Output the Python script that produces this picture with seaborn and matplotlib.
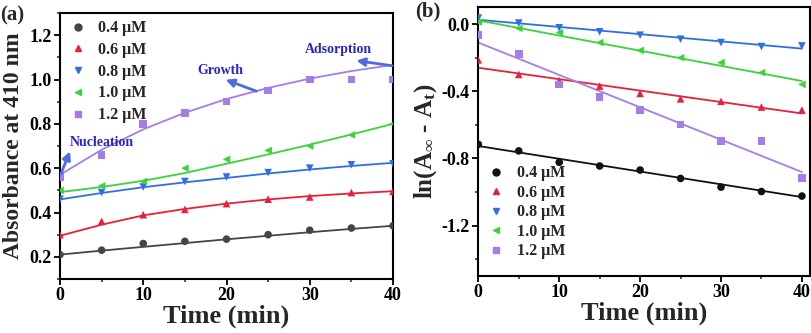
import numpy as np
import pandas as pd
import matplotlib
matplotlib.use("Agg")
import matplotlib.pyplot as plt
import seaborn as sns
from matplotlib.ticker import MultipleLocator

sns.set_theme(style="ticks")
plt.rcParams['font.family'] = ['Liberation Serif', 'DejaVu Serif']
plt.rcParams['font.weight'] = 'bold'
plt.rcParams['mathtext.fontset'] = 'custom'
plt.rcParams['mathtext.rm'] = 'Liberation Serif:bold'
plt.rcParams['mathtext.it'] = 'Liberation Serif:bold'
plt.rcParams['mathtext.bf'] = 'Liberation Serif:bold'

# ---------------- data ----------------
time = [0, 5, 10, 15, 20, 25, 30, 35, 40]
labels = ["0.4 μM", "0.6 μM", "0.8 μM", "1.0 μM", "1.2 μM"]

# panel (a): absorbance at 410 nm
abs_04 = [0.21, 0.23, 0.26, 0.27, 0.28, 0.30, 0.32, 0.33, 0.34]
abs_06 = [0.30, 0.36, 0.39, 0.414, 0.44, 0.46, 0.47, 0.49, 0.495]
abs_08 = [0.46, 0.49, 0.515, 0.54, 0.56, 0.58, 0.60, 0.615, 0.62]
abs_10 = [0.50, 0.52, 0.54, 0.60, 0.64, 0.68, 0.70, 0.75, 0.80]
abs_12 = [0.56, 0.66, 0.80, 0.85, 0.90, 0.95, 1.00, 1.00, 1.00]

# panel (a): fitted curves
fit_time = [0, 5, 10, 15, 20, 25, 30, 35, 40]
fit_a_04 = [0.21, 0.228, 0.245, 0.262, 0.279, 0.295, 0.311, 0.326, 0.34]
fit_a_06 = [0.295, 0.345, 0.387, 0.416, 0.44, 0.459, 0.474, 0.486, 0.496]
fit_a_08 = [0.459, 0.488, 0.514, 0.536, 0.556, 0.576, 0.594, 0.61, 0.624]
fit_a_10 = [0.492, 0.515, 0.543, 0.578, 0.62, 0.662, 0.706, 0.752, 0.80]
fit_a_12 = [0.57, 0.683, 0.775, 0.85, 0.912, 0.962, 1.004, 1.038, 1.066]

# panel (b): ln(A_inf - A_t)
ln_04 = [-0.716, -0.755, -0.823, -0.845, -0.869, -0.919, -0.971, -0.997, -1.024]
ln_06 = [-0.213, -0.30, -0.337, -0.369, -0.413, -0.445, -0.46, -0.494, -0.512]
ln_08 = [0.036, 0.006, -0.022, -0.046, -0.066, -0.09, -0.11, -0.134, -0.13]
ln_10 = [0.012, -0.026, -0.05, -0.11, -0.157, -0.20, -0.229, -0.289, -0.359]
ln_12 = [-0.064, -0.177, -0.359, -0.433, -0.512, -0.598, -0.696, -0.696, -0.917]

# panel (b): linear fits (end points)
lin_time = [0, 40]
fit_b_04 = [-0.726, -1.03]
fit_b_06 = [-0.26, -0.532]
fit_b_08 = [0.026, -0.146]
fit_b_10 = [0.022, -0.339]
fit_b_12 = [-0.11, -0.881]

colors_a = ["#454545", "#e8203a", "#2f6ee6", "#3ad33a", "#a47de8"]
colors_b = ["#111111", "#e8203a", "#2f6ee6", "#3ad33a", "#a47de8"]
markers = ["o", "^", "v", "<", "s"]

fig = plt.figure(figsize=(8.12, 3.33), dpi=100)
ax1 = fig.add_axes([60/812, 54/333, 333/812, 266/333])
ax2 = fig.add_axes([478.3/812, 57/333, 331.7/812, 268.7/333])


def draw(ax, ydata, fits, fx, colors):
    handles = []
    for y, f, c, m, lab in zip(ydata, fits, colors, markers, labels):
        sns.lineplot(x=fx, y=f, ax=ax, color=c, lw=1.3, legend=False)
        sns.scatterplot(x=time, y=y, ax=ax, color=c, marker=m, s=30,
                        edgecolor='none', legend=False, zorder=3)
        handles.append(plt.Line2D([], [], ls='none', marker=m, color=c,
                                  markersize=5, label=lab))
    return handles


h1 = draw(ax1, [abs_04, abs_06, abs_08, abs_10, abs_12],
          [fit_a_04, fit_a_06, fit_a_08, fit_a_10, fit_a_12], fit_time, colors_a)
h2 = draw(ax2, [ln_04, ln_06, ln_08, ln_10, ln_12],
          [fit_b_04, fit_b_06, fit_b_08, fit_b_10, fit_b_12], lin_time, colors_b)

for ax in (ax1, ax2):
    for s in ax.spines.values():
        s.set_visible(True)
        s.set_linewidth(1.5)
        s.set_color('black')
    ax.xaxis.set_major_locator(MultipleLocator(10))
    ax.xaxis.set_minor_locator(MultipleLocator(5))
    ax.tick_params(which='major', direction='out', length=4, width=1.3,
                   labelsize=13, pad=2, colors='black')
    ax.tick_params(which='minor', direction='out', length=2.5, width=1.1)
    ax.set_xlabel("Time (min)", fontsize=19, fontweight='bold', labelpad=0)

ax1.set_xlim(0, 40)
ax1.set_ylim(0.1, 1.3)
ax1.yaxis.set_major_locator(MultipleLocator(0.2))
ax1.yaxis.set_minor_locator(MultipleLocator(0.1))
ax1.yaxis.set_major_formatter(matplotlib.ticker.FormatStrFormatter('%.1f'))
ax1.set_ylabel("Absorbance at 410 nm", fontsize=17, fontweight='bold', labelpad=4)

ax2.set_xlim(0, 41)
ax2.set_ylim(-1.5, 0.1)
ax2.yaxis.set_major_locator(MultipleLocator(0.4))
ax2.yaxis.set_minor_locator(MultipleLocator(0.2))
ax2.yaxis.set_major_formatter(matplotlib.ticker.FormatStrFormatter('%.1f'))
ax2.set_ylabel(r"ln(A$_{\infty}$ - A$_{t}$)", fontsize=18, fontweight='bold', labelpad=2)

for ax in (ax1, ax2):
    for lbl in ax.get_xticklabels() + ax.get_yticklabels():
        lbl.set_fontweight('bold')

leg1 = ax1.legend(handles=h1, loc='upper left', bbox_to_anchor=(0.0, 1.015),
                  frameon=False, prop={'size': 11.5, 'weight': 'bold'},
                  handlelength=0.8, handletextpad=0.9, labelspacing=0.36,
                  borderaxespad=0.3)
leg2 = ax2.legend(handles=h2, loc='lower left', bbox_to_anchor=(0.0, 0.02),
                  frameon=False, prop={'size': 11.5, 'weight': 'bold'},
                  handlelength=0.8, handletextpad=0.9, labelspacing=0.22,
                  borderaxespad=0.3)

# annotations in panel (a)
txt_c = "#2626c8"
arr_c = "#4a6de0"
ap = dict(arrowstyle='-|>', color=arr_c, lw=2, mutation_scale=12, shrinkA=0, shrinkB=0)
ax1.text(5.0, 0.717, "Nucleation", color=txt_c, fontsize=10, fontweight='bold',
         ha='center', va='center')
ax1.annotate('', xy=(1.2, 0.676), xytext=(0.12, 0.575), arrowprops=ap)
ax1.text(19.3, 1.04, "Growth", color=txt_c, fontsize=10, fontweight='bold',
         ha='center', va='center')
ax1.annotate('', xy=(19.9, 0.999), xytext=(23.6, 0.947), arrowprops=ap)
ax1.text(33.5, 1.137, "Adsorption", color=txt_c, fontsize=10, fontweight='bold',
         ha='center', va='center')
ax1.annotate('', xy=(35.6, 1.085), xytext=(39.9, 1.062), arrowprops=ap)

fig.text(0.0, 0.955, "(a)", fontsize=15, fontweight='bold', ha='left', va='center')
fig.text(415/812, 0.965, "(b)", fontsize=15, fontweight='bold', ha='left', va='center')

fig.savefig("out.png", dpi=100)
